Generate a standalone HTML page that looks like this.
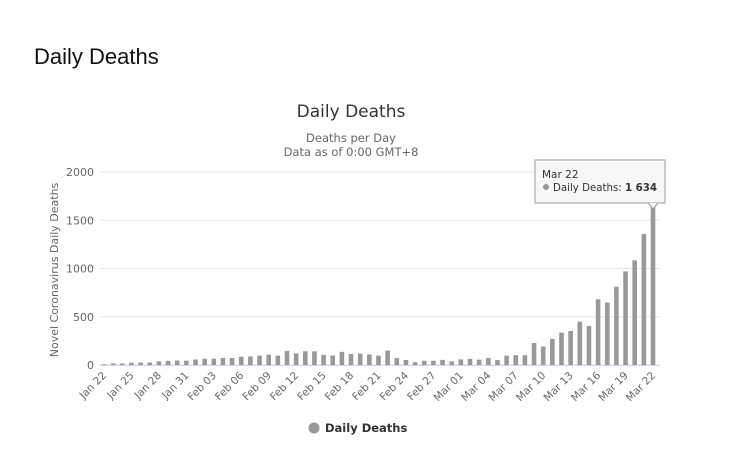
<!DOCTYPE html>
<html><head><meta charset="utf-8"><style>
body{margin:0;background:#fff;width:732px;height:451px;overflow:hidden;font-family:"DejaVu Sans","Liberation Sans",sans-serif}
</style></head><body>
<svg id="s" width="732" height="451" xmlns="http://www.w3.org/2000/svg">
<text x="34" y="64" font-family="Liberation Sans, sans-serif" font-size="22" fill="#111">Daily Deaths</text>
<text x="351" y="117" text-anchor="middle" font-size="17" fill="#333">Daily Deaths</text>
<text x="351" y="142" text-anchor="middle" font-size="11.5" fill="#666">Deaths per Day</text>
<text x="351" y="156" text-anchor="middle" font-size="11.5" fill="#666">Data as of 0:00 GMT+8</text>
<text transform="translate(58,270) rotate(-90)" text-anchor="middle" font-size="11" fill="#666">Novel Coronavirus Daily Deaths</text>
<g id="g"></g>
<g>
<rect x="535" y="160" width="130" height="43" fill="#f7f7f7" stroke="#999" stroke-width="1"/>
<path d="M648 203 L653 209 L658 203" fill="#f7f7f7" stroke="#999"/>
<text x="542" y="178" font-size="10.5" fill="#333">Mar 22</text>
<circle cx="546" cy="187" r="3" fill="#999"/>
<text x="553" y="191" font-size="11" fill="#333" textLength="104" lengthAdjust="spacingAndGlyphs">Daily Deaths: <tspan font-weight="bold">1 634</tspan></text>
</g>
<circle cx="314" cy="428" r="5.5" fill="#999"/>
<text x="325" y="432" font-size="11.5" font-weight="bold" fill="#333">Daily Deaths</text>
</svg>
<script>
var v=[17,8,16,15,24,26,26,38,43,46,45,57,64,66,73,73,86,89,97,108,97,146,121,143,142,105,98,136,114,118,109,97,150,71,52,29,44,44,53,37,58,64,55,73,51,97,102,101,228,192,271,335,353,449,404,681,647,811,970,1085,1357,1634];
v.shift();
var g=document.getElementById('g'),h='';
var y0=365,k=193/2000;
[0,500,1000,1500,2000].forEach(function(t){var y=y0-t*k;h+='<line x1="100" x2="660" y1="'+y+'" y2="'+y+'" stroke="#e6e6e6"/>';h+='<text x="94" y="'+(y+4)+'" text-anchor="end" font-size="11" fill="#666">'+t+'</text>';});
h+='<line x1="100" x2="660" y1="365.5" y2="365.5" stroke="#ccd6eb"/>';
var L=['Jan 22','Jan 25','Jan 28','Jan 31','Feb 03','Feb 06','Feb 09','Feb 12','Feb 15','Feb 18','Feb 21','Feb 24','Feb 27','Mar 01','Mar 04','Mar 07','Mar 10','Mar 13','Mar 16','Mar 19','Mar 22'];
for(var i=0;i<61;i++){var c=104+i*9.15,bh=v[i]*k;h+='<rect x="'+(c-2.3)+'" y="'+(y0-bh)+'" width="4.6" height="'+bh+'" fill="#999"/>';
if(i%3==0){h+='<text transform="translate('+(c+3)+',376) rotate(-45)" text-anchor="end" font-size="10.5" fill="#666">'+L[i/3]+'</text>';}}
g.innerHTML=h;
</script>
</body></html>
